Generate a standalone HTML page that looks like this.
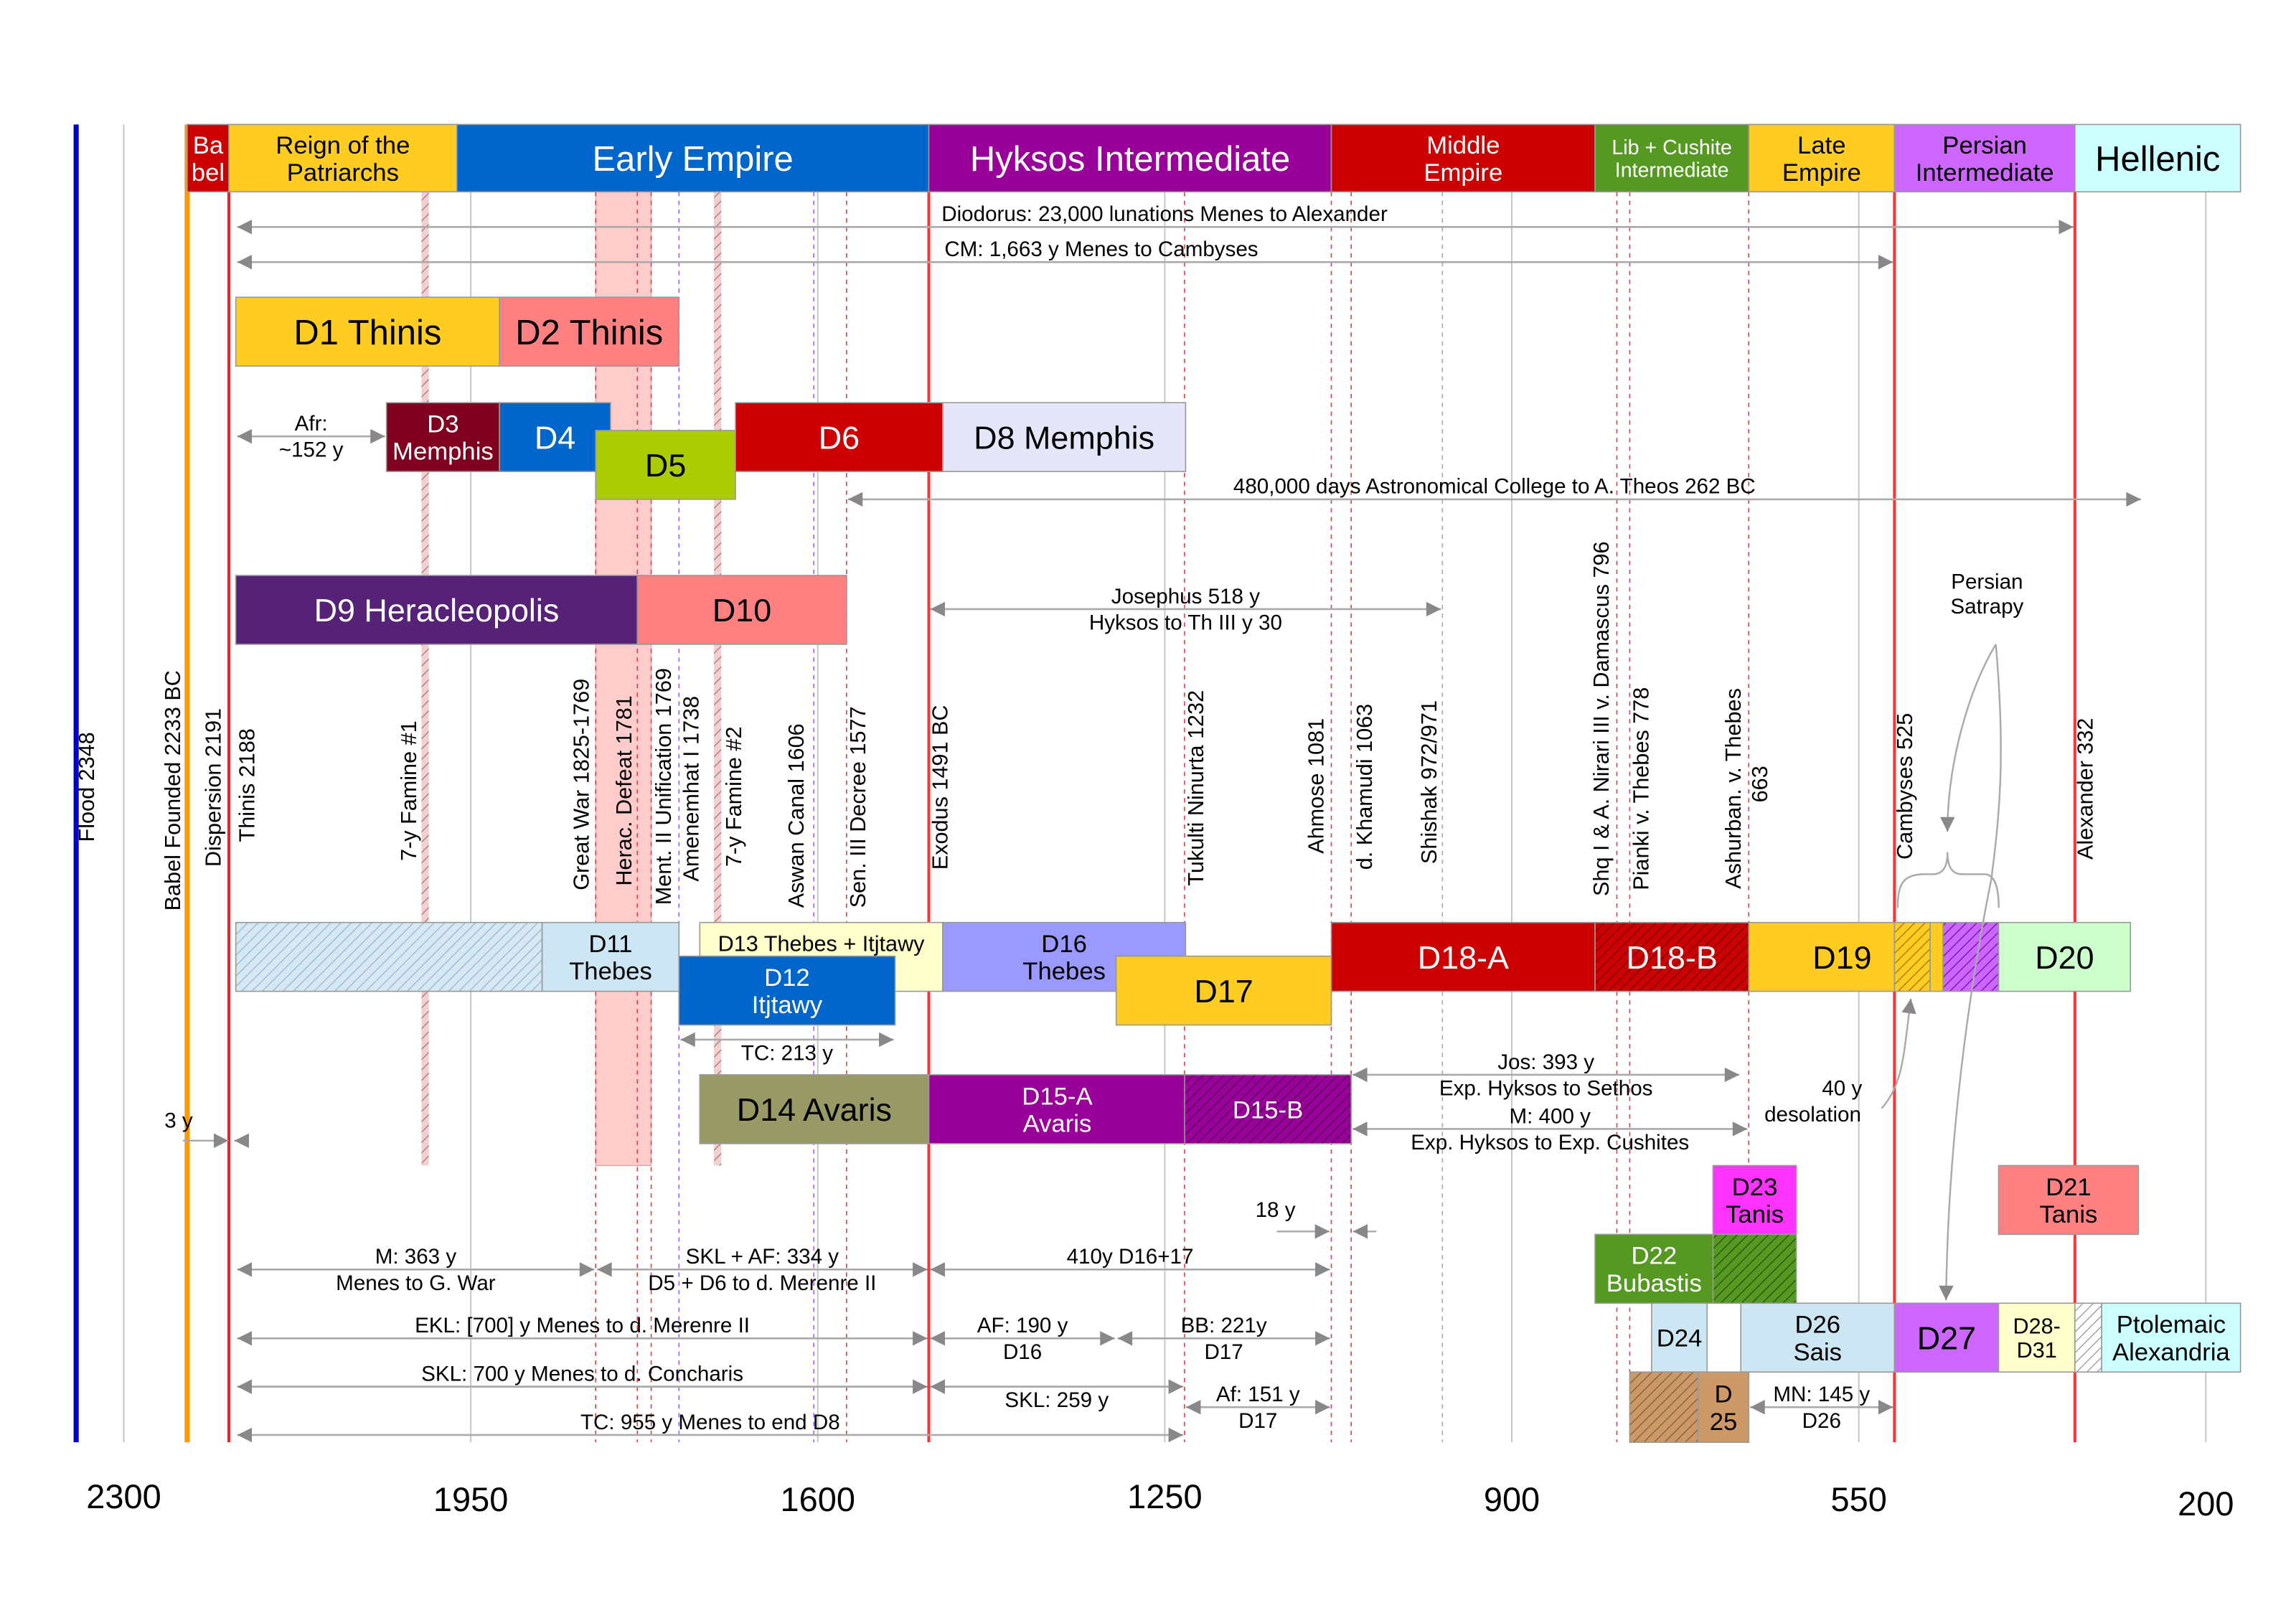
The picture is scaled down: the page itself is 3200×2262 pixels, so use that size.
<!DOCTYPE html>
<html><head><meta charset="utf-8"><style>
html,body{margin:0;padding:0;background:#fff;}
svg{display:block;font-family:"Liberation Sans",sans-serif;}
</style></head><body>
<svg id="chart" xmlns="http://www.w3.org/2000/svg" width="3200" height="2262" viewBox="0 0 1568 1108.4">
<defs id="defs"></defs>
<rect x="0" y="0" width="1568" height="1108.4" fill="#fff"/>
<g id="grid"></g><g id="bands"></g><g id="events"></g><g id="blocks"></g><g id="arrows"></g><g id="labels"></g><g id="axis"></g><g id="notes"></g>
</svg>
<script>
// ---- data ----
const tickYears = [2300, 1950, 1600, 1250, 900, 550, 200];
const tickLabels = ["2300", "1950", "1600", "1250", "900", "550", "200"];

const blockLabels = ["Ba\nbel","Reign of the\nPatriarchs","Early Empire","Hyksos Intermediate","Middle\nEmpire","Lib + Cushite\nIntermediate","Late\nEmpire","Persian\nIntermediate","Hellenic",
 "D1 Thinis","D2 Thinis","D3\nMemphis","D4","D5","D6","D8 Memphis","D9 Heracleopolis","D10",
 "","D11\nThebes","D13 Thebes + Itjtawy","D12\nItjtawy","D16\nThebes","D17","D18-A","D18-B","D19","","","","D20",
 "D14 Avaris","D15-A\nAvaris","D15-B","D23\nTanis","D21\nTanis","D22\nBubastis","",
 "D24","D26\nSais","D27","D28-\nD31","","Ptolemaic\nAlexandria","","D\n25"];
const blockStart = [2236,2194,1964,1488,1082,816,661,514,332,
 2187,1921,2035,1921,1824,1683,1474,2187,1782,
 2187,1878,1719,1740,1474,1299,1082,816,661,514,478,465,409,
 1719,1488,1230,697,409,816,697,
 759,669,514,409,332,305,781,712];
const blockEnd = [2194,1964,1488,1082,816,661,514,332,165,
 1921,1740,1921,1809,1683,1474,1229,1782,1571,
 1878,1740,1474,1522,1229,1082,816,661,514,478,465,409,276,
 1488,1229,1062,613,268,697,613,
 703,514,409,332,305,165,712,661];
const blockLane = [0,0,0,0,0,0,0,0,0,
 1,1,2,2,3,2,2,4,4,
 5,5,5,6,5,6,5,5,5,5,5,5,5,
 7,7,7,8,8,9,9,
 10,10,10,10,10,10,11,11];
const blockFill = ["#cc0000","#ffcc22","#0066cc","#990099","#cc0000","#559922","#ffcc22","#cc66ff","#ccffff",
 "#ffcc22","#ff8080","#800020","#0066cc","#aacc00","#cc0000","#e6e6fa","#552277","#ff8080",
 "hatchBlue","#cce6f4","#ffffcc","#0066cc","#9999ff","#ffcc22","#cc0000","hatchRed","#ffcc22","hatchYellow","#ffcc22","hatchViolet","#ccffcc",
 "#999966","#990099","hatchPurple","#ff33ff","#ff8080","#559922","hatchGreen",
 "#cce6f4","#cce6f4","#cc66ff","#ffffcc","hatchGray","#ccffff","hatchBrown","#cc9966"];
const blockTextColor = ["#fff","#000","#fff","#fff","#fff","#fff","#000","#000","#000",
 "#000","#000","#fff","#fff","#000","#fff","#000","#fff","#000",
 "#000","#000","#000","#fff","#000","#000","#fff","#fff","#000","#000","#000","#000","#000",
 "#000","#fff","#fff","#000","#000","#fff","#000",
 "#000","#000","#000","#000","#000","#000","#000","#000"];
const blockFont = [17,17,24,24,17,14,17,17,24,
 24,24,17,22,22,22,22,22,22,
 17,17,15,17,17,22,22,22,22,17,17,17,22,
 22,17,17,17,17,17,17,
 17,17,22,15,17,17,17,17];

const eventLabels = ["Flood 2348","Babel Founded 2233 BC","Dispersion 2191","Thinis 2188","7-y Famine #1","Great War 1825-1769","Herac. Defeat 1781","Ment. II Unification 1769","Amenemhat I 1738","7-y Famine #2","Aswan Canal 1606","Sen. III Decree 1577","Exodus 1491 BC","Tukulti Ninurta 1232","Ahmose 1081","d. Khamudi 1063","Shishak 972/971","Shq I & A. Nirari III  v. Damascus 796","Pianki v. Thebes 778","Ashurban. v. Thebes","Cambyses 525","Alexander 332"];
const eventYears = [2336,2249,2208,2174,2011,1837,1794,1754,1726,1683,1620,1558,1475,1217,1096,1047,982,808,768,675,502,320];
const eventBottom = [575,622,592,575,588,608,605,618,602,592,620,620,594,605,583,594,590,612,608,607,587,587];

const arrowLabels = ["","","Afr:\n~152 y","480,000 days Astronomical College to A. Theos 262 BC","Josephus 518 y\nHyksos to Th III y 30","TC: 213 y","Jos: 393 y\nExp. Hyksos to Sethos","M: 400 y\nExp. Hyksos to Exp. Cushites","M: 363 y\nMenes to G. War","SKL + AF: 334 y\nD5 + D6 to d. Merenre II","410y D16+17","EKL: [700] y Menes to d. Merenre II","AF: 190 y\nD16","BB: 221y\nD17","SKL: 700 y Menes to d. Concharis","SKL: 259 y","Af: 151 y\nD17","TC: 955 y Menes to end D8","MN: 145 y\nD26"];
const arrowStart = [2187,2187,2187,1571,1488,1740,1062,1062,2187,1824,1488,2187,1488,1299,2187,1488,1230,2187,661];
const arrowEnd = [332,514,2035,264,970,1522,669,661,1824,1488,1082,1488,1299,1082,1488,1230,1082,1230,514];
const arrowRow = [155,179,298,341,416,710,734,771,867,867,867,914,914,914,947,947,961,980,961];
const arrowLabelPos = ["","","split","above","split","below","split","split","split","split","above","above","split","split","above","below","split","above","split"];
</script>
<script>
const NS="http://www.w3.org/2000/svg";
const X = yr => 52 + (2348 - yr) * 0.6771;
const laneTop = [85,203,275,294,393,630,653,734,796,843,890,937];
const laneH = [46,47,47,47,47,47,47,47,47,47,47,48];
function mk(tag, attrs, parent){const e=document.createElementNS(NS,tag);for(const k in attrs)e.setAttribute(k,attrs[k]);if(parent)parent.appendChild(e);return e;}
const defs=document.getElementById('defs');
const hatches={hatchBlue:["#d6e8f2","#8fb0cc"],hatchRed:["#cc0000","#660000"],hatchYellow:["#ffcc22","#996600"],hatchViolet:["#cc66ff","#6600aa"],hatchPurple:["#990099","#440044"],hatchGreen:["#559922","#224400"],hatchGray:["#ffffff","#888888"],hatchBrown:["#cc9966","#775533"],hatchPink:["#f0d0d0","#aa6666"]};
for(const id in hatches){const p=mk('pattern',{id:id,width:5,height:5,patternUnits:'userSpaceOnUse',patternTransform:'rotate(45)'},defs);mk('rect',{width:5,height:5,fill:hatches[id][0]},p);mk('line',{x1:0,y1:0,x2:0,y2:5,stroke:hatches[id][1],'stroke-width':1.1},p);}
mk('marker',{id:'ah',viewBox:'0 0 10 10',refX:10,refY:5,markerWidth:16,markerHeight:10,markerUnits:'userSpaceOnUse',orient:'auto-start-reverse'},defs).appendChild(mk('path',{d:'M0,0 L10,5 L0,10 z',fill:'#888'}));

// grid
const grid=document.getElementById('grid');
tickYears.forEach((t,i)=>{const l=mk('line',{x1:X(t),x2:X(t),y1:85,y2:985,stroke:'#c8c8c8','stroke-width':1},grid);

});
// bands
const bands=document.getElementById('bands');
let b=mk('rect',{x:X(1824),y:131,width:X(1768)-X(1824),height:665,fill:'#ffcccc',stroke:'#e0a0a0','stroke-width':0.6},bands);

[1996,1701].forEach((yr,i)=>{const r=mk('rect',{x:X(yr)-2.5,y:131,width:5,height:665,fill:'url(#hatchPink)'},bands);

});
// dotted guide lines
const dots=[[1824,'#e04040'],[1782,'#e04040'],[1768,'#e04040'],[1740,'#9966ff'],[1604,'#9966ff'],[1571,'#e04040'],[1230,'#e04040'],[1082,'#e04040'],[1062,'#e04040'],[970,'#aaaaaa'],[794,'#e04040'],[781,'#e04040'],[661,'#e04040']];
dots.forEach(d=>{const l=mk('line',{x1:X(d[0]),x2:X(d[0]),y1:131,y2:985,stroke:d[1],'stroke-width':0.8,'stroke-dasharray':'3,3'},bands);

});
// main event lines
const ev=document.getElementById('events');
[[2348,'#0000cc',3.5,'flood-line'],[2236,'#ff9900',3.5,'babel-line'],[2194,'#ee2222',2,'dispersion-line'],[1488,'#ff3333',2,'exodus-line'],[514,'#ff3333',2,'cambyses-line'],[332,'#ff3333',2,'alexander-line']].forEach(d=>{
const l=mk('line',{x1:X(d[0]),x2:X(d[0]),y1:85,y2:985,stroke:d[1],'stroke-width':d[2]},ev);

});

// blocks
const bl=document.getElementById('blocks');
blockLabels.forEach((lab,i)=>{
 const x1=X(blockStart[i]),x2=X(blockEnd[i]),y=laneTop[blockLane[i]],h=laneH[blockLane[i]];
 const f=blockFill[i].startsWith('#')?blockFill[i]:'url(#'+blockFill[i]+')';
 const g=mk('g',{},bl);
 
 
 mk('rect',{x:x1,y:y,width:x2-x1,height:h,fill:f,stroke:'#999','stroke-width':0.8},g);
 if(lab){const lines=lab.split('\n');const fs=blockFont[i];
  const top = lab.startsWith('D13') ? y+14 : y+h/2-(lines.length-1)*fs*0.55;
  const cx = lab==='D19' ? (x1+x2)/2+14 : (x1+x2)/2;
  lines.forEach((ln,k)=>{const t=mk('text',{x:cx,y:top+k*fs*1.1+fs*0.36,'text-anchor':'middle','font-size':fs,fill:blockTextColor[i]},g);t.textContent=ln;});}
});

// arrows
const ar=document.getElementById('arrows');
arrowLabels.forEach((lab,i)=>{
 const x1=X(arrowStart[i]),x2=X(arrowEnd[i]),y=arrowRow[i];
 const g=mk('g',{},ar);
 
 
 mk('line',{x1:x1+1,x2:x2-1,y1:y,y2:y,stroke:'#aaa','stroke-width':1.3,'marker-start':'url(#ah)','marker-end':'url(#ah)'},g);
 if(lab){const lines=lab.split('\n');const mx=(x1+x2)/2;const pos=arrowLabelPos[i];
  lines.forEach((ln,k)=>{let yy;if(pos==='split')yy=k===0?y-4:y+14;else if(pos==='above')yy=y-4;else yy=y+14;
   const t=mk('text',{x:mx,y:yy,'text-anchor':'middle','font-size':14.5,fill:'#000'},g);t.textContent=ln;});}
});
[["Diodorus: 23,000 lunations Menes to Alexander",643,151],["CM:  1,663 y Menes to Cambyses",645,175]].forEach((d,i)=>{const t=mk('text',{x:d[1],y:d[2],'font-size':14.5,'xml:space':'preserve'},ar);t.textContent=d[0];

});

// event labels
const lb=document.getElementById('labels');
eventLabels.forEach((lab,i)=>{const x=X(eventYears[i]),yb=eventBottom[i];
 const t=mk('text',{x:x,y:yb,transform:`rotate(-90 ${x} ${yb})`,'font-size':15,'dominant-baseline':'middle','xml:space':'preserve'},lb);t.textContent=lab;
 
 });
(function(){const t=mk('text',{x:1203,y:548,transform:'rotate(-90 1203 548)','font-size':15,'dominant-baseline':'middle'},lb);t.textContent='663';
})();

// axis
const ax=document.getElementById('axis');
const tickY=[1030,1032,1032,1030,1032,1032,1035];
tickYears.forEach((t,i)=>{const e=mk('text',{x:X(t),y:tickY[i],'text-anchor':'middle','font-size':23},ax);e.textContent=tickLabels[i];

});

// notes
const nt=document.getElementById('notes');
[["Persian",1357,402],["Satrapy",1357,419],["40 y",1258,748],["desolation",1238,766],["18 y",871,831],["3 y",122,770]].forEach(d=>{const e=mk('text',{x:d[1],y:d[2],'text-anchor':'middle','font-size':14.5},nt);e.textContent=d[0];

});
const curves=['M1363,440 C1345,470 1330,520 1330,568',
'M1363,440 C1370,520 1365,560 1360,600 C1340,700 1330,800 1329,888',
'M1296,620 C1296,603 1300,597 1315,597 L1320,597 C1327,597 1330,592 1330,582 C1330,592 1333,597 1340,597 L1355,597 C1362,597 1365,605 1365,620',
'M1285,757 C1300,740 1300,720 1305,682'];
curves.forEach((d,i)=>{const p=mk('path',{d:d,fill:'none',stroke:'#aaa','stroke-width':1.2,'marker-end':i===2?'':'url(#ah)'},nt);

});
[[125,779,156,779],[170,779,160,779],[872,841,908,841],[940,841,924,841]].forEach(d=>{const l=mk('line',{x1:d[0],y1:d[1],x2:d[2],y2:d[3],stroke:'#aaa','stroke-width':1.2,'marker-end':'url(#ah)'},nt);

});
</script>
</body></html>
